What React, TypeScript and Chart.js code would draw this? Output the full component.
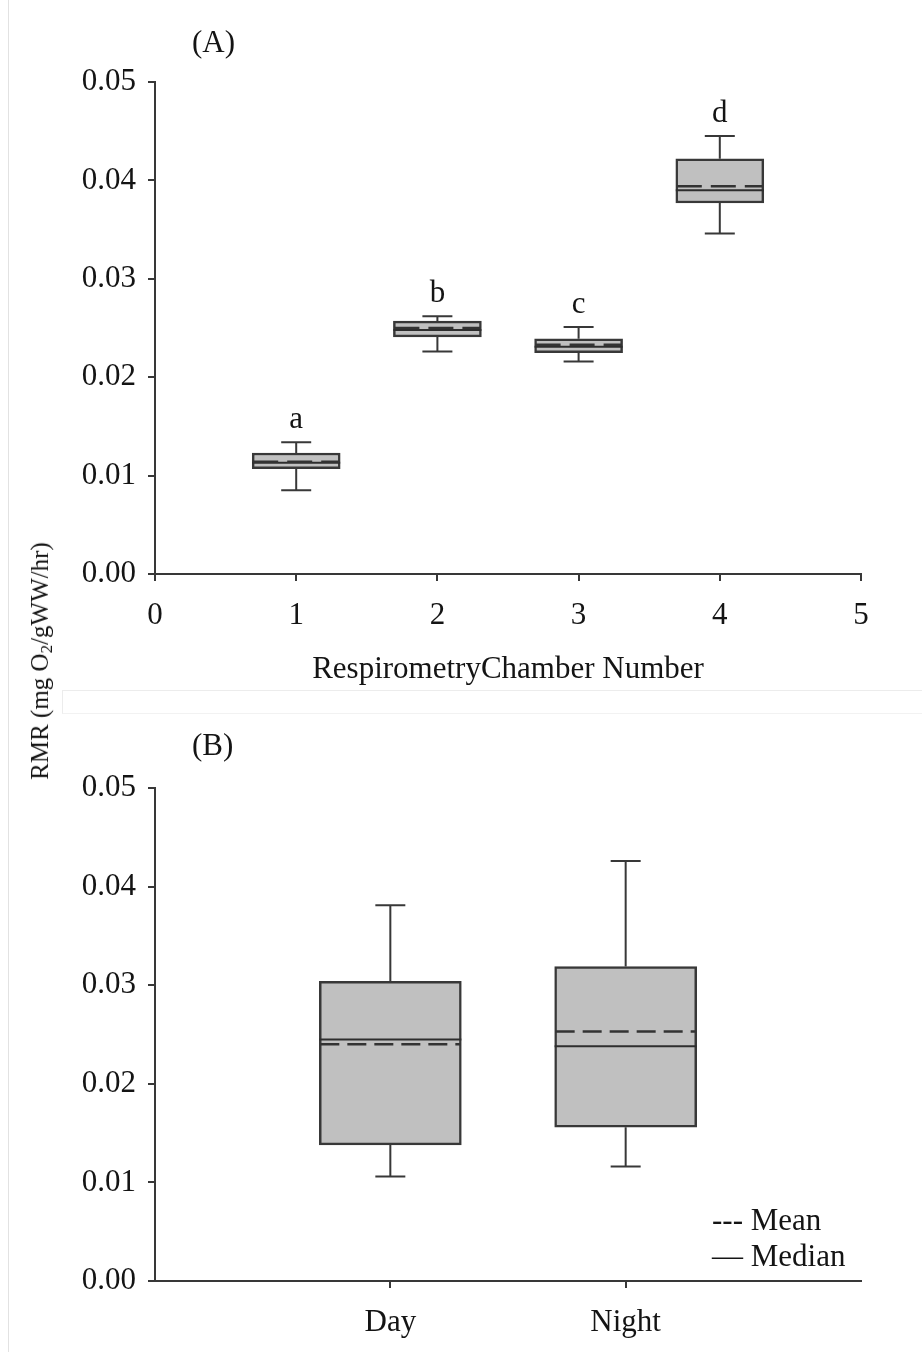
import React, { useEffect, useRef } from "react";
import { Chart, registerables } from "chart.js";

Chart.register(...registerables);

// ---------- Panel A data: respirometry chambers ----------
const chamberPositions = [1, 2, 3, 4];
const chamberWhiskerLow = [0.0085, 0.0226, 0.0216, 0.0346];
const chamberQ1 = [0.0107, 0.0241, 0.0225, 0.0377];
const chamberMedian = [0.0113, 0.0248, 0.0231, 0.039];
const chamberMean = [0.0114, 0.025, 0.0233, 0.0394];
const chamberQ3 = [0.0123, 0.0257, 0.0239, 0.0422];
const chamberWhiskerHigh = [0.0134, 0.0262, 0.0251, 0.0445];
const chamberLetters = ["a", "b", "c", "d"];
const chamberXTicks = [0, 1, 2, 3, 4, 5];

// ---------- Panel B data: day vs night ----------
const periodLabels = ["Day", "Night"];
const periodPositions = [1, 2];
const periodWhiskerLow = [0.0106, 0.0116];
const periodQ1 = [0.0138, 0.0156];
const periodMedian = [0.0245, 0.0238];
const periodMean = [0.024, 0.0253];
const periodQ3 = [0.0304, 0.0319];
const periodWhiskerHigh = [0.0381, 0.0426];

const yTickValues = [0, 0.01, 0.02, 0.03, 0.04, 0.05];

const SERIF = "'Liberation Serif', 'Times New Roman', serif";
const INK = "#141414";
const LINE = "#383838";
const FILL = "#c0c0c0";
const FS = 31;

type BoxCfg = {
  positions: number[];
  lo: number[];
  q1: number[];
  med: number[];
  mean: number[];
  q3: number[];
  hi: number[];
  boxWidth: number;
  capWidth: number;
  dash: number[];
  letters?: string[];
  legend?: boolean;
};

function makeBoxPlugin(cfg: BoxCfg) {
  return {
    id: "boxDetails",
    afterDatasetsDraw(chart: any) {
      const { ctx, scales, chartArea } = chart;
      const x = scales.x;
      const y = scales.y;
      ctx.save();
      cfg.positions.forEach((p, i) => {
        const cx = x.getPixelForValue(p);
        const half = cfg.boxWidth / 2;
        const capHalf = cfg.capWidth / 2;
        ctx.strokeStyle = LINE;
        ctx.lineWidth = 2;
        ctx.setLineDash([]);
        const yq3 = y.getPixelForValue(cfg.q3[i]);
        const yhi = y.getPixelForValue(cfg.hi[i]);
        const yq1 = y.getPixelForValue(cfg.q1[i]);
        const ylo = y.getPixelForValue(cfg.lo[i]);
        ctx.beginPath();
        ctx.moveTo(cx, yq3);
        ctx.lineTo(cx, yhi);
        ctx.moveTo(cx - capHalf, yhi);
        ctx.lineTo(cx + capHalf, yhi);
        ctx.moveTo(cx, yq1);
        ctx.lineTo(cx, ylo);
        ctx.moveTo(cx - capHalf, ylo);
        ctx.lineTo(cx + capHalf, ylo);
        ctx.stroke();
        // median
        const ym = y.getPixelForValue(cfg.med[i]);
        ctx.strokeStyle = "#2e2e2e";
        ctx.lineWidth = 2;
        ctx.beginPath();
        ctx.moveTo(cx - half, ym);
        ctx.lineTo(cx + half, ym);
        ctx.stroke();
        // mean (dashed)
        const ymean = y.getPixelForValue(cfg.mean[i]);
        ctx.strokeStyle = "#333333";
        ctx.lineWidth = 2.5;
        ctx.setLineDash(cfg.dash);
        ctx.beginPath();
        ctx.moveTo(cx - half + 1, ymean);
        ctx.lineTo(cx + half - 1, ymean);
        ctx.stroke();
        ctx.setLineDash([]);
        if (cfg.letters) {
          ctx.fillStyle = INK;
          ctx.font = `${FS}px ${SERIF}`;
          ctx.textAlign = "center";
          ctx.textBaseline = "alphabetic";
          ctx.fillText(cfg.letters[i], cx, yhi - 14);
        }
      });
      if (cfg.legend) {
        ctx.fillStyle = INK;
        ctx.font = `${FS}px ${SERIF}`;
        ctx.textAlign = "left";
        ctx.textBaseline = "alphabetic";
        const lx = chartArea.right - 149;
        ctx.fillText("--- Mean", lx, chartArea.bottom - 51);
        ctx.fillText("\u2014 Median", lx, chartArea.bottom - 15);
      }
      ctx.restore();
    },
  };
}

function yScale() {
  return {
    type: "linear",
    min: 0,
    max: 0.05,
    afterFit: (s: any) => {
      s.width = 155;
    },
    afterBuildTicks: (s: any) => {
      s.ticks = yTickValues.map((v) => ({ value: v }));
    },
    ticks: {
      color: INK,
      font: { family: SERIF, size: FS },
      padding: 12,
      callback: (v: any) => Number(v).toFixed(2),
    },
    grid: {
      display: true,
      drawOnChartArea: false,
      drawTicks: true,
      tickLength: 7,
      color: LINE,
      lineWidth: 2,
    },
    border: { display: true, color: LINE, width: 2 },
  };
}

function ChartA() {
  const ref = useRef<HTMLCanvasElement | null>(null);
  useEffect(() => {
    if (!ref.current) return;
    const chart = new Chart(ref.current, {
      type: "bar",
      data: {
        datasets: [
          {
            data: chamberPositions.map((p, i) => ({ x: p, y: [chamberQ1[i], chamberQ3[i]] })) as any,
            backgroundColor: FILL,
            borderColor: LINE,
            borderWidth: 2.5,
            borderSkipped: false,
            barThickness: 88,
          },
        ],
      },
      options: {
        responsive: false,
        animation: false,
        layout: { padding: { top: 82, right: 61, left: 0, bottom: 0 } },
        plugins: { legend: { display: false }, tooltip: { enabled: false } },
        scales: {
          x: {
            type: "linear",
            min: 0,
            max: 5,
            offset: false,
            afterFit: (s: any) => {
              s.height = 126;
            },
            afterBuildTicks: (s: any) => {
              s.ticks = chamberXTicks.map((v) => ({ value: v }));
            },
            ticks: { color: INK, font: { family: SERIF, size: FS }, padding: 16 },
            grid: {
              display: true,
              offset: false,
              drawOnChartArea: false,
              drawTicks: true,
              tickLength: 7,
              color: LINE,
              lineWidth: 2,
            },
            border: { display: true, color: LINE, width: 2 },
            title: {
              display: true,
              text: "RespirometryChamber Number",
              color: INK,
              font: { family: SERIF, size: FS },
              padding: { top: 0, bottom: 12 },
            },
          } as any,
          y: yScale() as any,
        },
      },
      plugins: [
        makeBoxPlugin({
          positions: chamberPositions,
          lo: chamberWhiskerLow,
          q1: chamberQ1,
          med: chamberMedian,
          mean: chamberMean,
          q3: chamberQ3,
          hi: chamberWhiskerHigh,
          boxWidth: 88,
          capWidth: 30,
          dash: [25, 9],
          letters: chamberLetters,
        }),
      ],
    });
    return () => chart.destroy();
  }, []);
  return (
    <canvas
      ref={ref}
      width={922}
      height={700}
      style={{ position: "absolute", left: 0, top: 0, width: 922, height: 700, display: "block" }}
    />
  );
}

function ChartB() {
  const ref = useRef<HTMLCanvasElement | null>(null);
  useEffect(() => {
    if (!ref.current) return;
    const chart = new Chart(ref.current, {
      type: "bar",
      data: {
        datasets: [
          {
            data: periodPositions.map((p, i) => ({ x: p, y: [periodQ1[i], periodQ3[i]] })) as any,
            backgroundColor: FILL,
            borderColor: LINE,
            borderWidth: 2.5,
            borderSkipped: false,
            barThickness: 142,
          },
        ],
      },
      options: {
        responsive: false,
        animation: false,
        layout: { padding: { top: 88, right: 61, left: 0, bottom: 0 } },
        plugins: { legend: { display: false }, tooltip: { enabled: false } },
        scales: {
          x: {
            type: "linear",
            min: 0,
            max: 3,
            offset: false,
            afterFit: (s: any) => {
              s.height = 71;
            },
            afterBuildTicks: (s: any) => {
              s.ticks = periodPositions.map((v) => ({ value: v }));
            },
            ticks: {
              color: INK,
              font: { family: SERIF, size: FS },
              padding: 16,
              callback: (v: any) => periodLabels[periodPositions.indexOf(Number(v))] ?? "",
            },
            grid: {
              display: true,
              offset: false,
              drawOnChartArea: false,
              drawTicks: true,
              tickLength: 7,
              color: LINE,
              lineWidth: 2,
            },
            border: { display: true, color: LINE, width: 2 },
          } as any,
          y: yScale() as any,
        },
      },
      plugins: [
        makeBoxPlugin({
          positions: periodPositions,
          lo: periodWhiskerLow,
          q1: periodQ1,
          med: periodMedian,
          mean: periodMean,
          q3: periodQ3,
          hi: periodWhiskerHigh,
          boxWidth: 142,
          capWidth: 30,
          dash: [19, 8],
          legend: true,
        }),
      ],
    });
    return () => chart.destroy();
  }, []);
  return (
    <canvas
      ref={ref}
      width={922}
      height={652}
      style={{ position: "absolute", left: 0, top: 700, width: 922, height: 652, display: "block" }}
    />
  );
}

export default function App() {
  const label: React.CSSProperties = {
    position: "absolute",
    fontFamily: SERIF,
    fontSize: FS,
    lineHeight: "36px",
    color: INK,
    whiteSpace: "nowrap",
  };
  return (
    <div
      style={{
        position: "absolute",
        left: 0,
        top: 0,
        width: 922,
        height: 1352,
        background: "#ffffff",
        overflow: "hidden",
      }}
    >
      <div style={{ position: "absolute", left: 8, top: 0, width: 1, height: 1352, background: "#e2e2e2" }} />
      <div
        style={{
          position: "absolute",
          left: 62,
          top: 690,
          width: 880,
          height: 22,
          borderTop: "1px solid #ececec",
          borderLeft: "1px solid #ececec",
          borderBottom: "1px solid #f2f2f2",
        }}
      />
      <ChartA />
      <ChartB />
      <div style={{ ...label, left: 192, top: 24 }}>(A)</div>
      <div style={{ ...label, left: 192, top: 727 }}>(B)</div>
      <div
        style={{
          position: "absolute",
          left: 40,
          top: 661,
          transform: "translate(-50%, -50%) rotate(-90deg)",
          fontFamily: SERIF,
          fontSize: 25,
          lineHeight: "30px",
          color: INK,
          whiteSpace: "nowrap",
        }}
      >
        RMR (mg O<sub style={{ fontSize: "0.68em", verticalAlign: "-0.25em", lineHeight: 0 }}>2</sub>/gWW/hr)
      </div>
    </div>
  );
}
